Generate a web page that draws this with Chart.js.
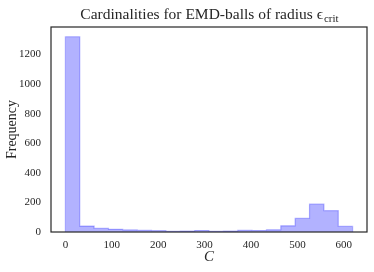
<!DOCTYPE html>
<html>
<head>
<meta charset="utf-8">
<script src="https://cdn.jsdelivr.net/npm/chart.js@4"></script>
<style>
  html, body { margin: 0; padding: 0; background: #fff; }
  #wrap { position: relative; width: 374px; height: 272px; }
</style>
</head>
<body>
<div id="wrap"><canvas id="histChart" width="374" height="272"></canvas></div>
<script>
// histogram counts, 20 equal bins
var binCounts = [1320, 40, 24, 18, 14, 12, 9, 5, 6, 10, 5, 6, 12, 10, 15, 42, 92, 188, 144, 38];
var binMin = 0;
var binMax = 619;
var xTicks = [0, 100, 200, 300, 400, 500, 600];
var yTicks = [0, 200, 400, 600, 800, 1000, 1200];

var titleText = "Cardinalities for EMD-balls of radius \u03F5";
var titleSub = "crit";
var xLabel = "C";
var yLabel = "Frequency";

// step outline points: one per left bin edge, plus a closing point at the right edge
var binWidth = (binMax - binMin) / binCounts.length;
var stepPoints = [{ x: binMin, y: 0 }];
for (var i = 0; i < binCounts.length; i++) {
    stepPoints.push({ x: binMin + i * binWidth, y: binCounts[i] });
}
stepPoints.push({ x: binMax, y: 0 });

var serif = "'Liberation Serif', 'DejaVu Serif', serif";

// frame + title with subscript
var framePlugin = {
    id: 'frame',
    afterDraw: function (chart) {
        var ctx = chart.ctx;
        var a = chart.chartArea;
        ctx.save();
        ctx.strokeStyle = '#262626';
        ctx.lineWidth = 1.2;
        ctx.strokeRect(a.left, a.top, a.right - a.left, a.bottom - a.top);

        ctx.fillStyle = '#262626';
        ctx.textBaseline = 'alphabetic';
        ctx.font = '15.5px ' + serif;
        var mainW = ctx.measureText(titleText).width;
        ctx.font = '11px ' + serif;
        var subW = ctx.measureText(titleSub).width;
        var cx = (a.left + a.right) / 2;
        var x0 = cx - (mainW + subW) / 2;
        ctx.font = '15.5px ' + serif;
        ctx.textAlign = 'left';
        ctx.fillText(titleText, x0, 19);
        ctx.font = '11px ' + serif;
        ctx.fillText(titleSub, x0 + mainW + 1, 22);
        ctx.restore();
    }
};

var ctx = document.getElementById('histChart').getContext('2d');
var chartInstance = new Chart(ctx, {
    type: 'line',
    data: {
        datasets: [{
            data: stepPoints,
            stepped: 'before',
            fill: 'origin',
            backgroundColor: 'rgba(0, 0, 255, 0.3)',
            borderColor: 'rgba(0, 0, 255, 0.28)',
            borderWidth: 1.2,
            pointRadius: 0,
            tension: 0
        }]
    },
    options: {
        responsive: false,
        animation: false,
        layout: { padding: { left: 0, top: 27, right: 7, bottom: 0 } },
        plugins: {
            legend: { display: false },
            tooltip: { enabled: false },
            title: { display: false }
        },
        scales: {
            x: {
                type: 'linear',
                min: -31,
                max: 650,
                grid: { display: false, drawTicks: false },
                border: { display: false },
                afterBuildTicks: function (scale) {
                    scale.ticks = xTicks.map(function (v) { return { value: v }; });
                },
                afterFit: function (scale) { scale.height = 40; },
                ticks: {
                    padding: 7,
                    color: '#262626',
                    font: { family: serif, size: 11 },
                    maxRotation: 0,
                    callback: function (v) { return String(v); }
                },
                title: {
                    display: true,
                    text: xLabel,
                    color: '#262626',
                    font: { family: serif, size: 15, style: 'italic' },
                    padding: { top: 0, bottom: 6 }
                }
            },
            y: {
                min: 0,
                max: 1386,
                grid: { display: false, drawTicks: false },
                border: { display: false },
                afterBuildTicks: function (scale) {
                    scale.ticks = yTicks.map(function (v) { return { value: v }; });
                },
                afterFit: function (scale) { scale.width = 51; },
                ticks: {
                    padding: 10,
                    color: '#262626',
                    font: { family: serif, size: 11 },
                    callback: function (v) { return String(v); }
                },
                title: {
                    display: true,
                    text: yLabel,
                    color: '#262626',
                    font: { family: serif, size: 14 },
                    padding: { top: 4, bottom: 0 }
                }
            }
        }
    },
    plugins: [framePlugin]
});
</script>
</body>
</html>
